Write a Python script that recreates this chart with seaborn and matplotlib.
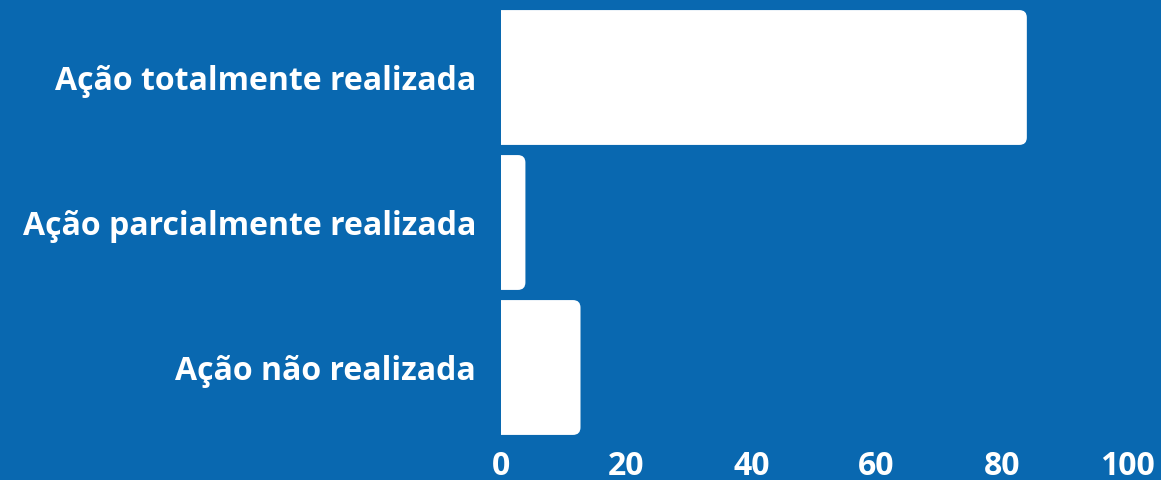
import matplotlib
matplotlib.use("Agg")
import pandas as pd
import matplotlib.pyplot as plt
import seaborn as sns
from matplotlib.patches import FancyBboxPatch

# Data
categorias = ["Ação totalmente realizada", "Ação parcialmente realizada", "Ação não realizada"]
percentuais = [84.0, 3.9, 12.7]
ticks = [0, 20, 40, 60, 80, 100]

df = pd.DataFrame({"categoria": categorias, "valor": percentuais})

bg = "#0968b0"
sns.set_theme(style="white")
plt.rcParams["font.family"] = ["Open Sans", "DejaVu Sans"]

fig = plt.figure(figsize=(11.61, 4.8), dpi=100, facecolor=bg)
ax = fig.add_axes([501 / 1161, 40 / 480, 626 / 1161, 435 / 480])
ax.set_facecolor(bg)

sns.barplot(data=df, x="valor", y="categoria", color="white", width=0.93,
            saturation=1, ax=ax)

ax.set_xlim(0, 100)
ax.set_ylim(2.5, -0.5)

# swap the plain bars for ones with rounded right corners
aspect = (1 / 145) / (1 / 6.26)
for p in list(ax.patches):
    x0, y0 = p.get_x(), p.get_y()
    w, h = p.get_width(), p.get_height()
    p.remove()
    rb = FancyBboxPatch((x0 - 3, y0), w + 3, h,
                        boxstyle="round,pad=0,rounding_size=1.2",
                        mutation_aspect=aspect,
                        facecolor="white", edgecolor="none")
    ax.add_patch(rb)
    rb.set_clip_path(ax.patch)

ax.set_xticks(ticks)
ax.set_xticklabels([str(t) for t in ticks])
ax.tick_params(axis="x", length=0, pad=7, labelsize=23, colors="white")
ax.tick_params(axis="y", length=0, pad=18, labelsize=23, colors="white")
for lab in ax.get_xticklabels() + ax.get_yticklabels():
    lab.set_fontweight("bold")

ax.set_xlabel("")
ax.set_ylabel("")
sns.despine(ax=ax, left=True, bottom=True)

fig.savefig("out.png", dpi=100, facecolor=bg)
